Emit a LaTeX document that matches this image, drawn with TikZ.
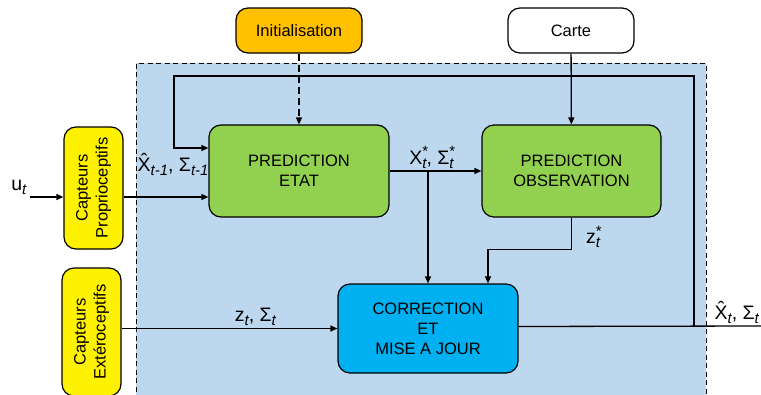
\documentclass[tikz,border=0pt]{standalone}
\usepackage{fontspec}
\setmainfont{Liberation Sans}
\usetikzlibrary{positioning,arrows.meta}
\definecolor{fondbleu}{HTML}{BDD7EE}
\definecolor{vert}{HTML}{92D050}
\definecolor{cyanc}{HTML}{00B0F0}
\definecolor{orangec}{HTML}{FFC000}
\newcommand{\sbs}[1]{\raisebox{-0.4ex}{\fontsize{15}{15}\selectfont\itshape #1}}
\newcommand{\supsub}[2]{\rlap{\raisebox{0.7ex}{\fontsize{15}{15}\selectfont *}}\sbs{#2}}
\tikzset{
  bloc/.style={draw, line width=1.2pt, rounded corners=12pt, align=center,
    font=\fontsize{16.5}{20}\selectfont},
  capteur/.style={bloc, fill=yellow, rotate=90, minimum height=59pt},
  lbl/.style={font=\fontsize{19.5}{22}\selectfont, inner sep=2pt}
}

\begin{document}
\begin{tikzpicture}[x=1pt, y=-1pt,
    ->, >={Triangle[length=7pt,width=6pt]},
    line width=1.3pt,
    font=\fontsize{16.5}{20}\selectfont]
    \clip (0,0) rectangle (761,394);
    \fill[fondbleu] (136,63) rectangle (706,400);
    \draw[-, dash pattern=on 5pt off 3.5pt, line width=0.9pt] (136,400) -- (136,63) -- (706,63) -- (706,400);
    \node[bloc, fill=orangec, minimum width=126pt, minimum height=45pt] (I) at (299,30.5) {Initialisation};
    \node[bloc, fill=white, minimum width=126pt, minimum height=45pt] (C) at (571,30.5) {Carte};
    \node[capteur, minimum width=122pt] (P) at (93.5,188) {Capteurs\\Proprioceptifs};
    \node[capteur, minimum width=128pt] (E) at (91.5,332) {Capteurs\\Extéroceptifs};
    \node[bloc, fill=vert, minimum width=180pt, minimum height=92pt] (PE) at (299,171) {PREDICTION\\ETAT};
    \node[bloc, fill=vert, minimum width=179pt, minimum height=92pt] (PO) at (571.5,171) {PREDICTION\\OBSERVATION};
    \node[bloc, fill=cyanc, minimum width=180pt, minimum height=89pt] (CM) at (428,328.5) {CORRECTION\\ET\\MISE A JOUR};
    \coordinate (u) at (30,197);
    \coordinate (out) at (761,326);
    \coordinate (fb) at (694,326);
    \coordinate (pin) at ([yshift=-26pt]PE.west);
    \coordinate (fin) at ([yshift=23pt]PE.west);
    \coordinate (br) at (CM.north |- PE.east);
    \node[lbl, anchor=east] (ul) at ([xshift=-1pt,yshift=10pt]u) {u\sbs{t}};
    \draw[dash pattern=on 7pt off 4pt] (I) -- (PE);
    \draw (C) -- (PO);
    \draw (u) -- (P.north |- u);
    \draw (P.south |- pin) -- (pin);
    \draw (PE) -- node[lbl, above, xshift=-4pt] (xs) {X\supsub{*}{t}, Σ\supsub{*}{t}} (PO);
    \draw (br) -- (CM.north);
    \draw (PO.south) |- ([xshift=60pt,yshift=34pt]CM.north) node[lbl, right=12pt, pos=0.3] (zs) {z\supsub{*}{t}} -- ([xshift=60pt]CM.north);
    \draw (E.south |- CM.west) -- node[lbl, above, pos=0.62] (zl) {z\sbs{t}, Σ\sbs{t}} (CM.west);
    \draw[-] ([yshift=2pt]CM.east) -- node[lbl, above, pos=0.9] (xh) {\^{X}\sbs{t}, Σ\sbs{t}} (out);
    \draw (fb) -- (694,76) -| (174,148) node[lbl, below right=3pt and -37pt, inner xsep=0pt] (xh1) {\^{X}\sbs{t-1}, Σ\sbs{t-1}} -- (fin);
\end{tikzpicture}
\end{document}
